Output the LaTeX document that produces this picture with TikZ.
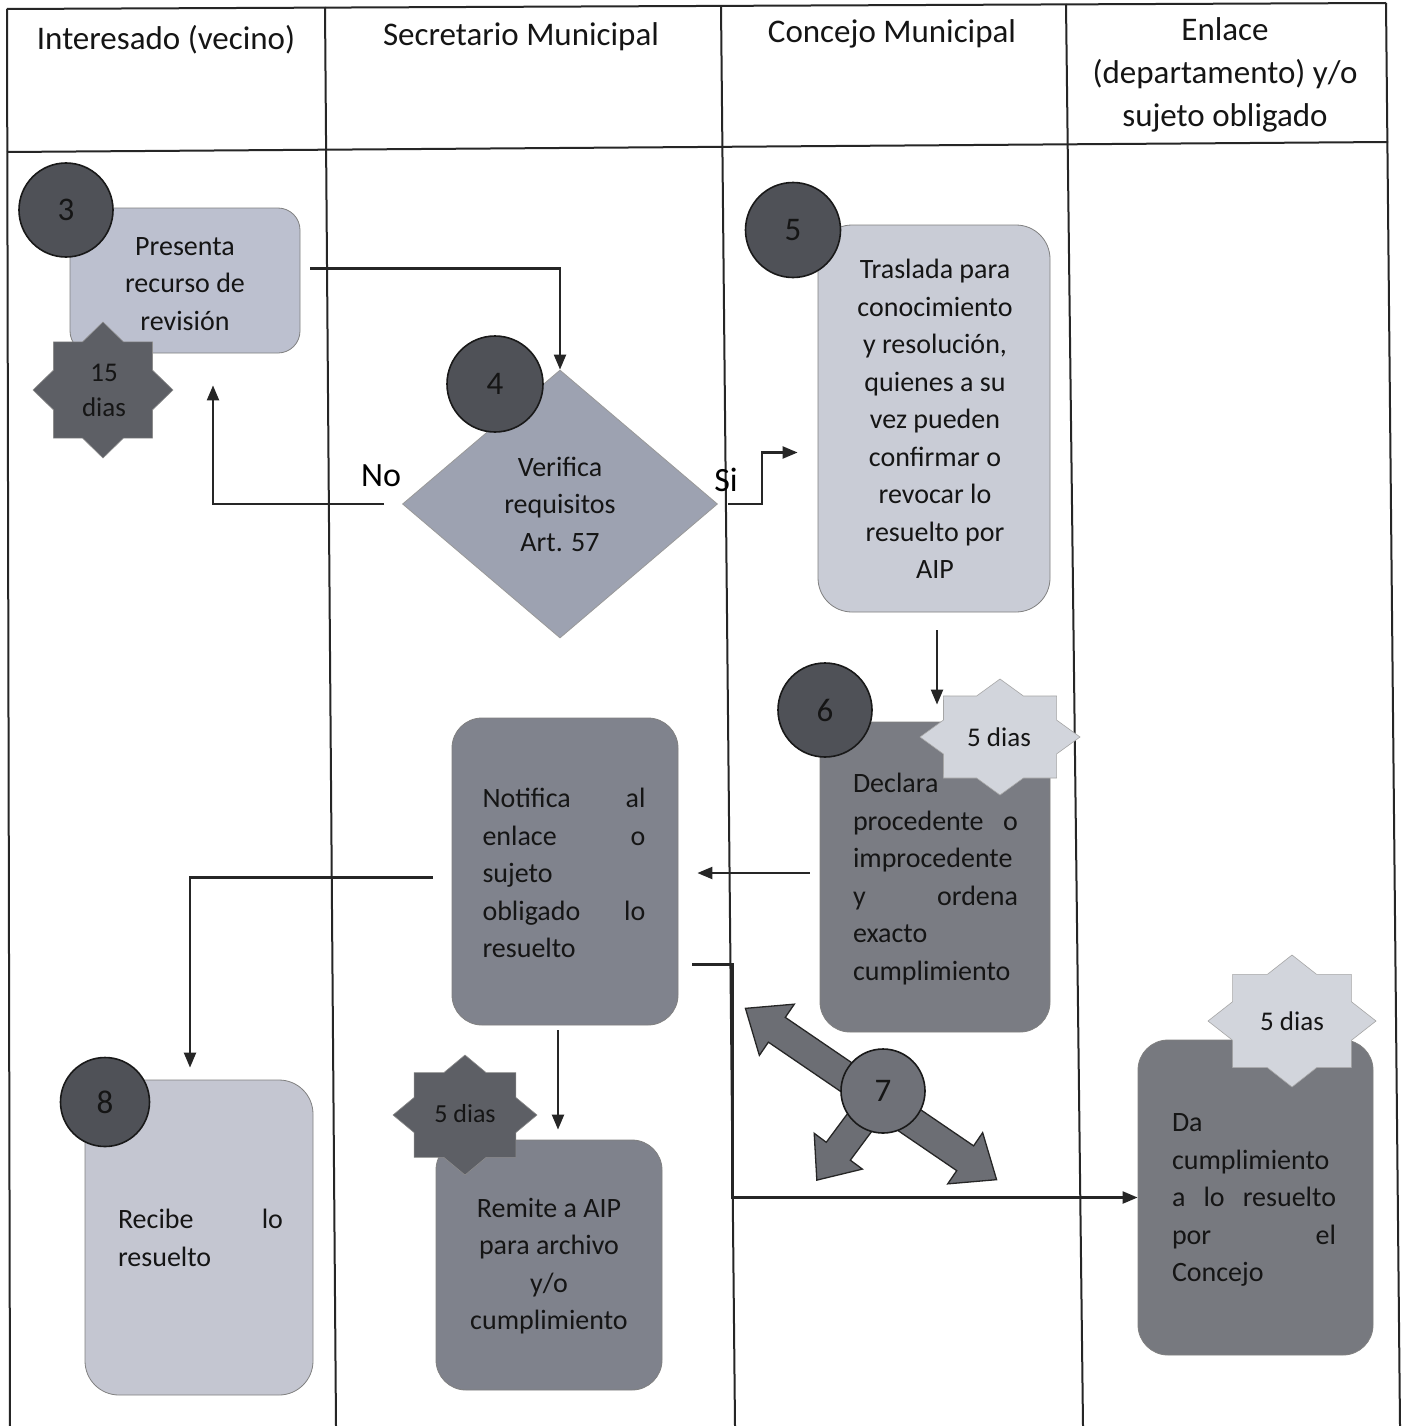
\documentclass[tikz,border=0pt]{standalone}
\usepackage{fontspec}
\setmainfont{Carlito}
\usetikzlibrary{shapes.geometric,arrows.meta,calc}
\definecolor{cdark}{HTML}{4F5157}
\definecolor{csev}{HTML}{6F7178}
\definecolor{dstarc}{HTML}{5D5F65}
\definecolor{lstarc}{HTML}{D2D5DC}
\definecolor{cboxa}{HTML}{BCC0CF}
\definecolor{cboxb}{HTML}{C9CCD6}
\definecolor{crec}{HTML}{C4C6D1}
\definecolor{cdia}{HTML}{9DA2B1}
\definecolor{cboxc}{HTML}{7A7C83}
\definecolor{cnot}{HTML}{80838D}
\definecolor{crem}{HTML}{7F828C}
\definecolor{cda}{HTML}{77797F}
\definecolor{cbig}{HTML}{6C6E74}
\definecolor{txt}{HTML}{151515}
\newcommand\octstar[5]{%
  \path[#5] ({#1+#3},#2) \foreach \a/\r in {22.5/0.765,45/1,67.5/0.765,90/1,112.5/0.765,135/1,157.5/0.765,180/1,202.5/0.765,225/1,247.5/0.765,270/1,292.5/0.765,315/1,337.5/0.765} { -- ({#1+#3*\r*cos(\a)},{#2+#4*\r*sin(\a)}) } -- cycle;}
\tikzset{
  tbl/.style={line width=2pt, draw=black!85},
  head/.style={font=\fontsize{33}{43}\selectfont, text=txt, inner sep=0pt},
  boxbase/.style={rounded corners=30pt, draw=black!50, line width=0.8pt, inner sep=0pt},
  body/.style={font=\fontsize{28}{37.5}\selectfont, text=txt, inner sep=0pt},
  numc/.style={circle, draw=black!90, line width=1.6pt, fill=cdark, inner sep=0pt, text=txt, font=\fontsize{33}{33}\selectfont},
  conn/.style={line width=2.2pt, draw=black!85},
  arr/.style={conn, -{Triangle[length=15pt,width=12pt]}},
  dstar/.style={fill=dstarc, draw=black!45, line width=0.6pt},
  lstar/.style={fill=lstarc, draw=black!35, line width=0.6pt},
  startxt/.style={text=txt, inner sep=0pt},
  bigarr/.style={fill=cbig, draw=black!85, line width=1.3pt},
  lab/.style={font=\fontsize{34}{34}\selectfont, text=black, inner sep=0pt},
}
\begin{document}
\begin{tikzpicture}[x=1pt,y=-1pt]
\useasboundingbox (0,0) rectangle (1405,1426);
\fill[white] (0,0) rectangle (1405,1426);

% table
\draw[tbl] (7,9) -- (1386,3);
\draw[tbl] (7,152) -- (1388,142);
\draw[tbl] (7,9) -- (10,1426);
\draw[tbl] (325,7) -- (336,1426);
\draw[tbl] (721,6) -- (735,1426);
\draw[tbl] (1066,4) -- (1083,1426);
\draw[tbl] (1386,3) -- (1400,1426);

% headers
\node[head] (h1) at (166,40) {Interesado (vecino)};
\node[head] (h2) at (521,37) {Secretario Municipal};
\node[head] (h3) at (892,34) {Concejo Municipal};
\node[head, align=center] (h4) at (1225,75) {Enlace\\(departamento) y/o\\sujeto obligado};

% boxes
\node[boxbase, rounded corners=22pt, fill=cboxa, minimum width=230pt, minimum height=145pt] (b3) at (185,280.5) {};
\node[diamond, aspect=1.175, fill=cdia, draw=black!40, line width=0.8pt, minimum width=315pt, minimum height=268pt, inner sep=0pt] (d4) at (560,504) {};
\node[boxbase, rounded corners=34pt, fill=cboxb, minimum width=232pt, minimum height=387pt] (b5) at (934,418.5) {};
\node[boxbase, fill=cboxc, minimum width=230pt, minimum height=310pt] (b6) at (935,877) {};
\node[boxbase, fill=cnot, minimum width=226pt, minimum height=307pt] (bn) at (565,871.5) {};
\node[boxbase, rounded corners=34pt, fill=crec, minimum width=228pt, minimum height=315pt] (b8) at (199,1237.5) {};
\node[boxbase, fill=crem, minimum width=226pt, minimum height=250pt] (br) at (549,1265) {};
\node[boxbase, fill=cda, minimum width=235pt, minimum height=315pt] (bd) at (1255.5,1197.5) {};

% connectors
\draw[arr] ($(b3.east)+(10,-12)$) -| (d4.north);
\draw[arr] ($(d4.west)+(-18,0)$) -| ($(b3.south)+(28,32)$);
\draw[arr] ($(d4.east)+(10,0)$) -- ++(34,0) |- ($(b5.west)+(-20,34)$);
\draw[arr] ($(b5.south)+(3,18)$) -- ($(b6.north)+(2,-17)$);
\coordinate (s6) at ($(b6.west)+(-10,-4)$);
\coordinate (nE) at ($(bn.east)+(19,0)$);
\draw[arr] (s6) -- (s6 -| nE);
\draw[arr] ($(bn.west)+(-19,6)$) -| ($(b8.north)+(-9,-12)$);
\draw[arr] ($(bn.south)+(-7,5)$) -- ($(br.north)+(9,-10)$);
\draw[arr] ($(bn.east)+(14,93)$) -- ++(40,0) |- (bd.west);

% labels
\node[lab] (no) at (381,476) {No};
\node[lab] (si) at (726,480) {Si};

% box texts
\node[body, align=center] (t3) at (185,284) {Presenta\\recurso de\\revisión};
\node[body, align=center] (t4) at (560,504) {Verifica\\requisitos\\Art. 57};
\node[body, align=center] (t5) at (935,419) {Traslada para\\conocimiento\\y resolución,\\quienes a su\\vez pueden\\confirmar o\\revocar lo\\resuelto por\\AIP};
\node[body, text width=165pt, align=left] (t6) at (935.5,879) {Declara\\procedente\hfill o\\improcedente\\y\hfill ordena\\exacto\\cumplimiento};
\node[body, text width=163pt, align=left] (tn) at (564,873) {Notifica\hfill al\\enlace\hfill o\\sujeto\\obligado\hfill lo\\resuelto};
\node[body, text width=165pt, align=left] (t8) at (200.5,1238) {Recibe\hfill lo\\resuelto};
\node[body, align=center] (tr) at (549,1266) {Remite a AIP\\para archivo\\y/o\\cumplimiento};
\node[body, text width=164pt, align=left] (td) at (1254,1200) {Da\\cumplimiento\\a\hfill lo\hfill resuelto\\por\hfill el\\Concejo};

% stars
\octstar{103}{390}{70}{68}{dstar}
\node[startxt, align=center, font=\fontsize{27}{35}\selectfont] (st3) at (104,390) {15\\dias};
\octstar{1000}{737}{80}{58}{lstar}
\node[startxt, font=\fontsize{27}{27}\selectfont] (st6) at (999,737) {5 dias};
\octstar{465}{1115}{72}{60}{dstar}
\node[startxt, font=\fontsize{26}{26}\selectfont] (str) at (465,1114) {5 dias};
\octstar{1292}{1021}{84}{66}{lstar}
\node[startxt, font=\fontsize{27}{27}\selectfont] (std) at (1292,1021) {5 dias};

% step 7 block arrows
\begin{scope}[shift={(871,1094)}, rotate=-34.3]
\path[bigarr] (-152,0) -- (-114,-31) -- (-114,-15) -- (114,-15) -- (114,-31) -- (152,0) -- (114,31) -- (114,15) -- (-114,15) -- (-114,31) -- cycle;
\end{scope}
\begin{scope}[shift={(883,1091)}, rotate=-126.6]
\path[bigarr] (0,-15) -- (75,-15) -- (75,-30) -- (111,0) -- (75,30) -- (75,15) -- (0,15) -- cycle;
\end{scope}

% number circles
\node[numc, minimum size=94pt] (c3) at (66,210) {3};
\node[numc, minimum size=96pt] (c4) at (495,384) {4};
\node[numc, minimum size=95pt] (c5) at (793,230) {5};
\node[numc, minimum size=94pt] (c6) at (825,710) {6};
\node[numc, fill=csev, minimum size=84pt] (c7) at (883,1091) {7};
\node[numc, minimum size=89pt] (c8) at (105,1102) {8};
\end{tikzpicture}
\end{document}
